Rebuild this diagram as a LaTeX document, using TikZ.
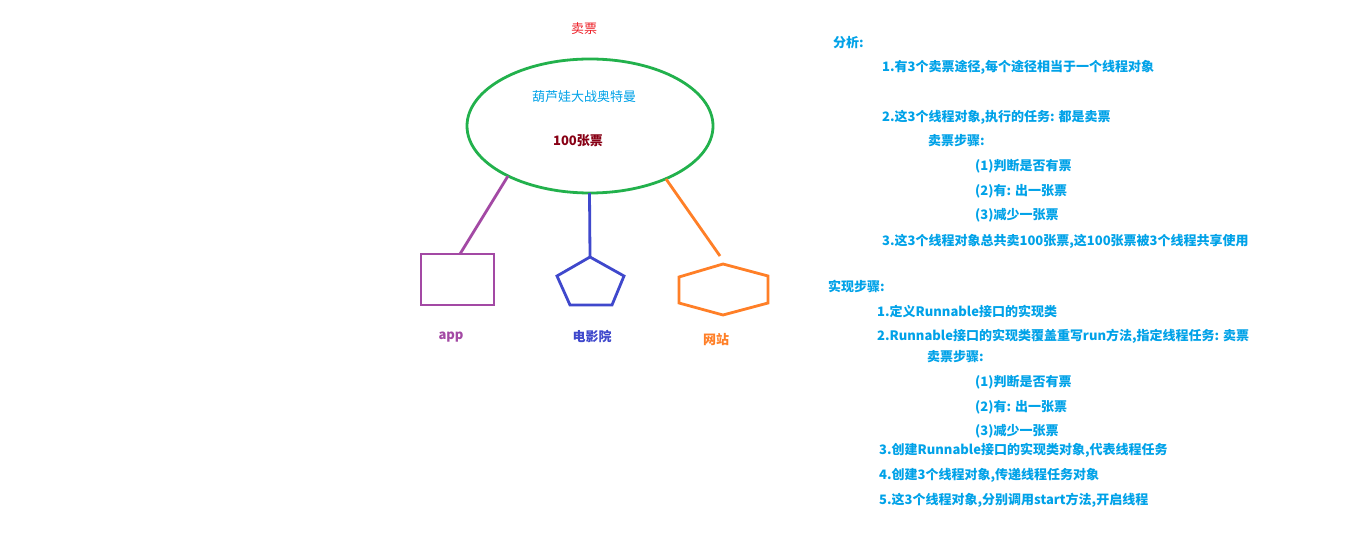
\documentclass[tikz,border=0pt]{standalone}
\usepackage{fontspec}
\newfontfamily\cjk{Noto Sans CJK SC}
\usetikzlibrary{shapes.geometric}
\definecolor{tblue}{HTML}{00A2E8}
\definecolor{tred}{HTML}{ED1C24}
\definecolor{tgreen}{HTML}{22B14C}
\definecolor{tdred}{HTML}{880015}
\definecolor{tpurple}{HTML}{A349A4}
\definecolor{tindigo}{HTML}{3F48CC}
\definecolor{torange}{HTML}{FF7F27}
\tikzset{
  txt/.style={font=\cjk\bfseries\fontsize{13}{15}\selectfont, text=tblue, inner sep=0pt, anchor=west},
  lbl/.style={font=\cjk\bfseries\fontsize{13}{15}\selectfont, inner sep=0pt},
  shp/.style={line width=2.8pt, line join=miter},
}
\begin{document}
\begin{tikzpicture}[x=1pt,y=-1pt]
\useasboundingbox[fill=white] (0,0) rectangle (1360,537);
% title
\node[lbl, text=tred, font=\cjk\fontsize{13}{15}\selectfont] (title) at (584,29) {卖票};
% ellipse
\node[shp, draw=tgreen, ellipse, minimum width=246pt, minimum height=134pt, inner sep=0pt] (e) at (590,126) {};
\node[lbl, text=tblue, font=\cjk\fontsize{13}{15}\selectfont] (movie) at (584,97) {葫芦娃大战奥特曼};
\node[lbl, text=tdred] (num) at (578,141) {100张票};
% rectangle (app)
\node[shp, draw=tpurple, rectangle, minimum width=73pt, minimum height=51pt, inner sep=0pt] (app) at (457.5,279.5) {};
\coordinate (pa) at (508,176);
\coordinate (pb) at (460,254);
\draw[shp, draw=tpurple] (pa) -- (pb);
% pentagon (cinema)
\coordinate (p1) at (590,257);
\coordinate (p2) at (624,276);
\coordinate (p3) at (612,305);
\coordinate (p4) at (570,305);
\coordinate (p5) at (557,276);
\draw[shp, draw=tindigo] (p1) -- (p2) -- (p3) -- (p4) -- (p5) -- cycle;
\coordinate (ca) at (589.5,193);
\draw[shp, draw=tindigo] (ca) -- (p1);
% hexagon (web)
\coordinate (h1) at (723,264);
\coordinate (h2) at (768,276);
\coordinate (h3) at (768,303);
\coordinate (h4) at (723,315);
\coordinate (h5) at (679,303);
\coordinate (h6) at (679,277);
\draw[shp, draw=torange] (h1) -- (h2) -- (h3) -- (h4) -- (h5) -- (h6) -- cycle;
\coordinate (wa) at (666,179);
\coordinate (wb) at (720,256);
\draw[shp, draw=torange] (wa) -- (wb);
% labels
\node[lbl, text=tpurple] (lapp) at (451,337) {app};
\node[lbl, text=tindigo] (lcin) at (592,336) {电影院};
\node[lbl, text=torange] (lweb) at (716,340) {网站};
% right text
\node[txt] (a0) at (833,43) {分析:};
\node[txt] (a1) at (882,67) {1.有3个卖票途径,每个途径相当于一个线程对象};
\node[txt] (a2) at (882,117) {2.这3个线程对象,执行的任务: 都是卖票};
\node[txt] (a3) at (928,141) {卖票步骤:};
\node[txt] (a4) at (975,166) {(1)判断是否有票};
\node[txt] (a5) at (975,191) {(2)有: 出一张票};
\node[txt] (a6) at (975,215) {(3)减少一张票};
\node[txt] (a7) at (882,241) {3.这3个线程对象总共卖100张票,这100张票被3个线程共享使用};
\node[txt] (b0) at (828,286) {实现步骤:};
\node[txt] (b1) at (877,311) {1.定义Runnable接口的实现类};
\node[txt] (b2) at (877,336) {2.Runnable接口的实现类覆盖重写run方法,指定线程任务: 卖票};
\node[txt] (b3) at (927,357) {卖票步骤:};
\node[txt] (b4) at (975,382) {(1)判断是否有票};
\node[txt] (b5) at (975,407) {(2)有: 出一张票};
\node[txt] (b6) at (975,431) {(3)减少一张票};
\node[txt] (b7) at (879,450) {3.创建Runnable接口的实现类对象,代表线程任务};
\node[txt] (b8) at (879,475) {4.创建3个线程对象,传递线程任务对象};
\node[txt] (b9) at (879,500) {5.这3个线程对象,分别调用start方法,开启线程};
\end{tikzpicture}
\end{document}
